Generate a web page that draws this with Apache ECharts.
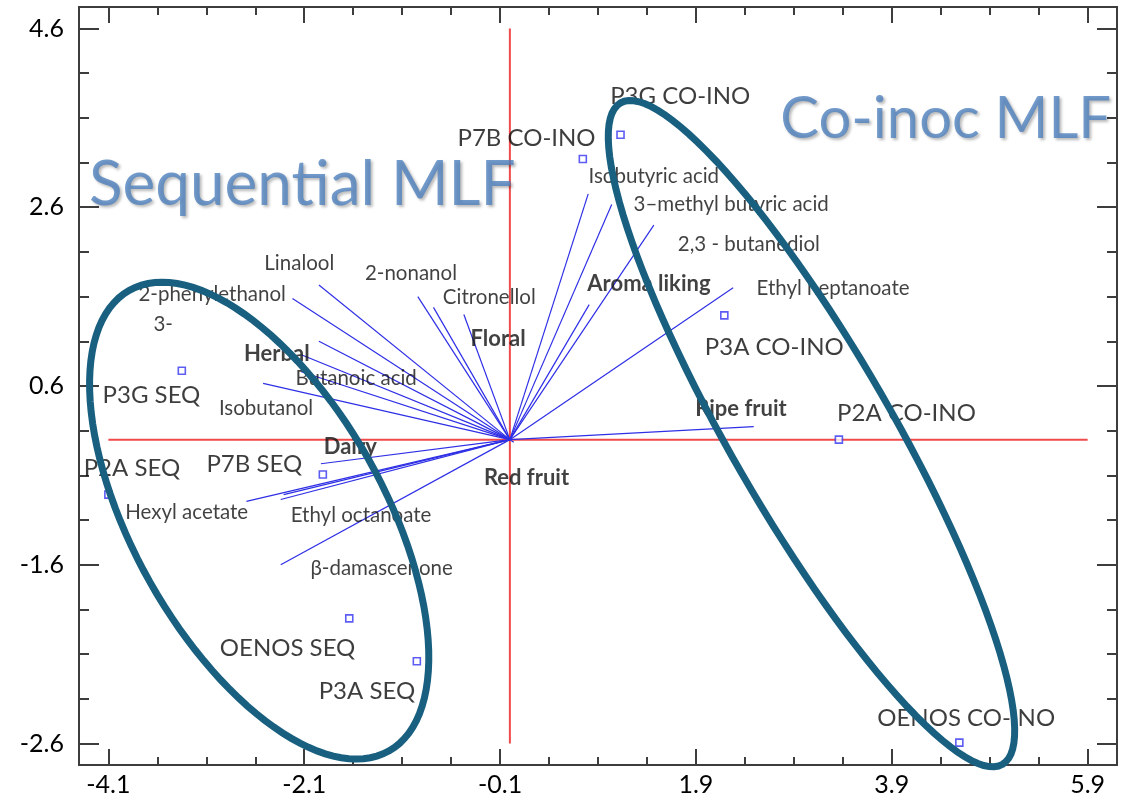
<!DOCTYPE html>
<html lang="en">
<head>
<meta charset="UTF-8">
<title>PCA biplot - Sequential vs Co-inoc MLF</title>
<style>
    html, body { margin: 0; padding: 0; background: #fff; }
    #chart { width: 1129px; height: 801px; }
</style>
<script src="https://cdn.jsdelivr.net/npm/echarts@6/dist/echarts.min.js"></script>
</head>
<body>
<div id="chart"></div>
<script>
// ---- axis ticks (the printed y labels do not follow the real grid, kept as shown)
var xTicks = [-4.1, -2.1, -0.1, 1.9, 3.9, 5.9];
var yTickValues = [-3.4, -1.4, 0.6, 2.6, 4.6];
var yTickLabels = ['-2.6', '-1.6', '0.6', '2.6', '4.6'];

// ---- observations (wines)
var obsNames = ['P3G CO-INO', 'P7B CO-INO', 'P3A CO-INO', 'P2A CO-INO', 'OENOS CO-INO',
                'P3G SEQ', 'P2A SEQ', 'P7B SEQ', 'OENOS SEQ', 'P3A SEQ'];
var obsX = [1.13, 0.745, 2.19, 3.36, 4.59, -3.35, -4.10, -1.91, -1.64, -0.95];
var obsY = [3.41, 3.14, 1.39, 0.00, -3.39, 0.77, -0.615, -0.39, -2.00, -2.48];
var obsLabelX = [1.74, 0.17, 2.70, 4.05, 4.66, -3.66, -3.86, -2.61, -2.27, -1.46];
var obsLabelY = [3.84, 3.37, 1.03, 0.29, -3.12, 0.50, -0.32, -0.28, -2.33, -2.82];

// ---- variables (loadings)
var varNames = ['Isobutyric acid', '3\u2013methyl butyric acid', '2,3 - butanediol', 'Ethyl heptanoate',
                'Aroma liking', 'Ripe fruit', 'Floral', 'Citronellol', '2-nonanol', 'Linalool',
                '2-phenylethanol', '3-', 'Herbal', 'Butanoic acid', 'Isobutanol', 'Dairy',
                'Hexyl acetate', 'Ethyl octanoate', '', 'Red fruit', '\u03b2-damascenone'];
var varX = [0.80, 1.04, 1.47, 2.28, 0.81, 2.49, -0.47, -0.78, -0.94, -1.95,
            -2.22, -1.95, -2.13, -2.13, -2.52, -1.93, -2.69, -2.34, -2.31, 0.04, -2.34];
var varY = [2.75, 2.63, 2.40, 1.70, 1.51, 0.145, 1.40, 1.48, 1.60, 1.73,
            1.58, 1.10, 0.95, 0.76, 0.63, -0.27, -0.69, -0.67, -0.615, -0.03, -1.40];
var varLabelX = [1.47, 2.26, 2.44, 3.30, 1.42, 2.36, -0.12, -0.21, -1.01, -2.15,
                 -3.04, -3.54, -2.38, -1.57, -2.49, -1.63, -3.30, -1.52, null, 0.17, -1.31];
var varLabelY = [2.94, 2.63, 2.18, 1.69, 1.74, 0.34, 1.13, 1.59, 1.86, 1.97,
                 1.63, 1.29, 0.96, 0.68, 0.35, -0.08, -0.81, -0.85, null, -0.425, -1.44];
var sensoryVars = ['Aroma liking', 'Ripe fruit', 'Floral', 'Herbal', 'Dairy', 'Red fruit'];

// ---- group annotations
var groupNames = ['Sequential MLF', 'Co-inoc MLF'];
var groupLabelX = [-2.12, 4.45];
var groupLabelY = [2.85, 3.58];
// ellipse: centre x, centre y, half axes (in x units), rotation on screen (deg)
var groupEllipses = [
    [-2.56, -0.906, 2.70, 1.28, 60.6],
    [3.08, 0.067, 3.90, 0.82, 60.0]
];

var xMin = -4.4, xMax = 6.2, yMin = -3.64, yMax = 4.84;
var frameColor = '#3d3d3d';
var textFont = 'Lato';

function minorOf(ticks) {
    var out = [];
    for (var i = 0; i < ticks.length - 1; i++) {
        for (var k = 1; k < 4; k++) out.push(+(ticks[i] + k * 0.5).toFixed(2));
    }
    return out;
}

function axis(kind, pos, ticks, len, labels) {
    var a = {
        type: 'value', min: kind === 'x' ? xMin : yMin, max: kind === 'x' ? xMax : yMax,
        position: pos,
        axisLine: { show: true, onZero: false, lineStyle: { color: frameColor, width: 2 } },
        axisTick: { show: true, inside: true, length: len, customValues: ticks,
                    lineStyle: { color: frameColor, width: 2 } },
        axisLabel: { show: false },
        splitLine: { show: false }
    };
    if (labels) {
        a.axisLabel = {
            show: true, customValues: ticks, color: '#000', fontSize: 25, fontFamily: textFont,
            margin: kind === 'x' ? 7 : 15,
            formatter: labels
        };
    }
    return a;
}

var chart = echarts.init(document.getElementById('chart'));

var option = {
    backgroundColor: '#fff',
    animation: false,
    grid: { left: 79, right: 12, top: 7, bottom: 36, containLabel: false },
    xAxis: [
        axis('x', 'bottom', xTicks, 16, function (v) { return v.toFixed(1); }),
        axis('x', 'bottom', minorOf(xTicks), 8),
        axis('x', 'top', xTicks, 16),
        axis('x', 'top', minorOf(xTicks), 8)
    ],
    yAxis: [
        axis('y', 'left', yTickValues, 20, function (v) {
            var best = 0;
            for (var i = 1; i < yTickValues.length; i++) {
                if (Math.abs(yTickValues[i] - v) < Math.abs(yTickValues[best] - v)) best = i;
            }
            return yTickLabels[best];
        }),
        axis('y', 'left', minorOf(yTickValues), 10),
        axis('y', 'right', yTickValues, 20),
        axis('y', 'right', minorOf(yTickValues), 10)
    ],
    series: [
        // red zero axes
        {
            type: 'line', symbol: 'none', silent: true, z: 1,
            data: [[xTicks[0], 0], [xTicks[xTicks.length - 1], 0]],
            lineStyle: { color: '#f04a4a', width: 2 }
        },
        {
            type: 'line', symbol: 'none', silent: true, z: 1,
            data: [[0, yTickValues[0]], [0, yTickValues[yTickValues.length - 1]]],
            lineStyle: { color: '#f04a4a', width: 2 }
        },
        // loading vectors
        {
            type: 'lines', coordinateSystem: 'cartesian2d', silent: true, z: 2,
            data: varX.map(function (x, i) { return { coords: [[0, 0], [x, varY[i]]] }; }),
            lineStyle: { color: '#2f2fe6', width: 1.2, opacity: 1 }
        },
        // variable labels
        {
            type: 'scatter', symbolSize: 1, silent: true, z: 4,
            itemStyle: { color: 'rgba(0,0,0,0)' },
            data: varNames.map(function (n, i) {
                if (!n) return null;
                var bold = sensoryVars.indexOf(n) >= 0;
                return {
                    name: n, value: [varLabelX[i], varLabelY[i]],
                    label: {
                        show: true, position: 'inside', formatter: n,
                        color: '#111',
                        fontWeight: bold ? 'bold' : 'normal',
                        fontSize: bold ? 22 : 20.5, fontFamily: textFont
                    }
                };
            }).filter(function (d) { return d; })
        },
        // observations
        {
            type: 'scatter', symbol: 'rect', symbolSize: 7, z: 5,
            itemStyle: { color: '#fff', borderColor: '#3535f0', borderWidth: 1.6 },
            data: obsX.map(function (x, i) { return [x, obsY[i]]; })
        },
        // observation labels
        {
            type: 'scatter', symbolSize: 1, silent: true, z: 4,
            itemStyle: { color: 'rgba(0,0,0,0)' },
            data: obsNames.map(function (n, i) {
                return {
                    name: n, value: [obsLabelX[i], obsLabelY[i]],
                    label: { show: true, position: 'inside', formatter: n,
                             color: '#0d0d0d', fontSize: 24, fontFamily: textFont }
                };
            })
        },
        // group ellipses
        {
            type: 'custom', silent: true, z: 10,
            data: groupEllipses,
            renderItem: function (params, api) {
                var c = api.coord([api.value(0), api.value(1)]);
                var unit = api.size([1, 0])[0];
                var a = api.value(2) * unit, b = api.value(3) * unit;
                var th = api.value(4) * Math.PI / 180;
                var pts = [];
                for (var k = 0; k < 120; k++) {
                    var t = k / 120 * Math.PI * 2;
                    pts.push([
                        c[0] + a * Math.cos(th) * Math.cos(t) - b * Math.sin(th) * Math.sin(t),
                        c[1] + a * Math.sin(th) * Math.cos(t) + b * Math.cos(th) * Math.sin(t)
                    ]);
                }
                return {
                    type: 'polygon', shape: { points: pts, smooth: 0 },
                    style: { fill: 'none', stroke: '#195f80', lineWidth: 7 }
                };
            }
        },
        // group names
        {
            type: 'scatter', symbolSize: 1, silent: true, z: 11,
            itemStyle: { color: 'rgba(0,0,0,0)' },
            data: groupNames.map(function (n, i) {
                return {
                    name: n, value: [groupLabelX[i], groupLabelY[i]],
                    label: { show: true, position: 'inside', formatter: n,
                             color: '#4f81bd', fontSize: i === 0 ? 62 : 58, fontFamily: textFont,
                             textShadowColor: 'rgba(0,0,0,0.35)', textShadowBlur: 3,
                             textShadowOffsetX: 2, textShadowOffsetY: 2 }
                };
            })
        }
    ]
};

chart.setOption(option);
</script>
</body>
</html>
